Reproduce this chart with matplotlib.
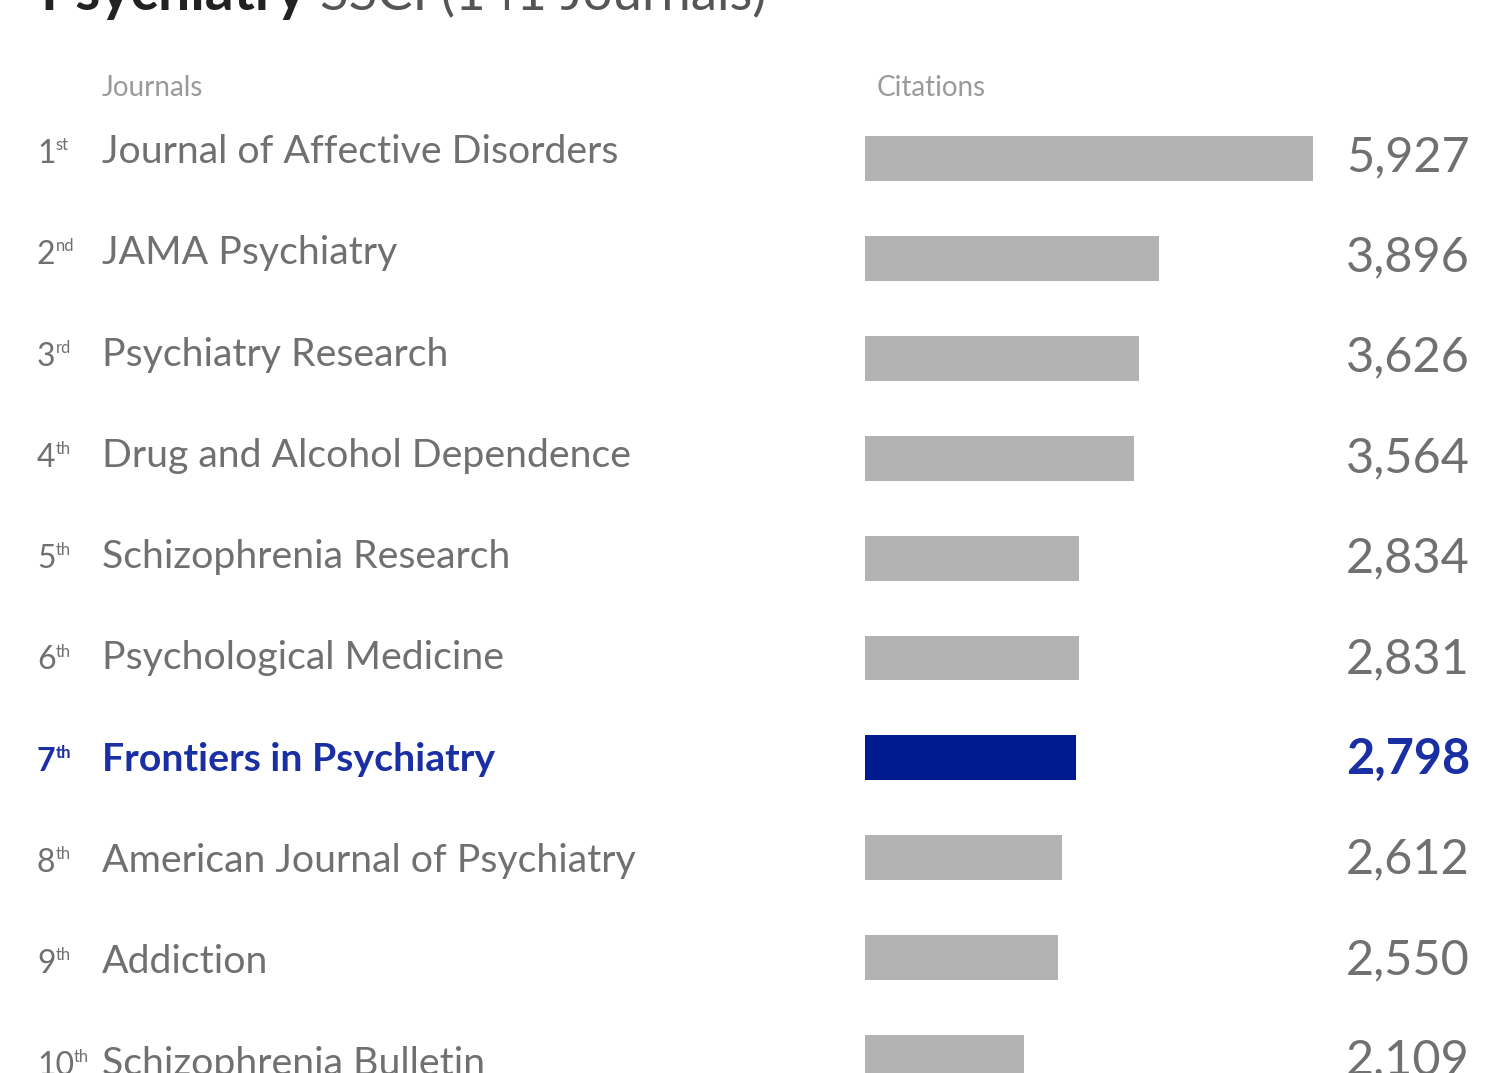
import matplotlib
matplotlib.use("Agg")
import matplotlib.pyplot as plt
import matplotlib.transforms as mtransforms

plt.rcParams['font.family'] = ['Lato', 'DejaVu Sans']

# data
ranks = ["1", "2", "3", "4", "5", "6", "7", "8", "9", "10"]
suffixes = ["st", "nd", "rd", "th", "th", "th", "th", "th", "th", "th"]
journals = ["Journal of Affective Disorders", "JAMA Psychiatry", "Psychiatry Research",
            "Drug and Alcohol Dependence", "Schizophrenia Research", "Psychological Medicine",
            "Frontiers in Psychiatry", "American Journal of Psychiatry", "Addiction",
            "Schizophrenia Bulletin"]
citations = [5927, 3896, 3626, 3564, 2834, 2831, 2798, 2612, 2550, 2109]
highlight = "Frontiers in Psychiatry"

W, H = 1512, 1073
fig = plt.figure(figsize=(W / 100, H / 100), dpi=100)

# bar axes: 865px -> 1313px for 0 -> max citations
x0, x1 = 865, 1313
row0, step = 158.5, 99.9
ax = fig.add_axes([x0 / W, 0, (x1 - x0) / W, 1])
ax.set_xlim(0, max(citations))
ax.set_ylim((H - row0) / step, -row0 / step)
ax.axis('off')

gray_bar = '#b3b3b3'
blue_bar = '#001a8f'
gray_txt = '#707070'
blue_txt = '#1a2fa3'

colors = [blue_bar if j == highlight else gray_bar for j in journals]
ax.barh(range(len(journals)), citations, height=0.45, color=colors)

# x in pixels, y in data rows
px = mtransforms.blended_transform_factory(
    mtransforms.IdentityTransform(), ax.transData)

def row_y(i, centre, spacing):
    # text rows drift slightly relative to the bars in the source image
    return (centre + spacing * i - row0) / step

renderer = fig.canvas.get_renderer()
for i, (r, s, j, c) in enumerate(zip(ranks, suffixes, journals, citations)):
    hl = j == highlight
    col = blue_txt if hl else gray_txt
    wt = 'bold' if hl else 'normal'
    yn = row_y(i, 152, 101.3)
    t = ax.text(37, yn + 0.02, r, transform=px, fontsize=23, color=col, weight=wt,
                va='center', ha='left', clip_on=False)
    bb = t.get_window_extent(renderer)
    ax.text(bb.x1, yn - 0.07, s, transform=px, fontsize=12, color=col, weight=wt,
            va='center', ha='left', clip_on=False)
    ax.text(102, yn, j, transform=px, fontsize=28.3, color=col, weight=wt,
            va='center', ha='left', clip_on=False)
    ax.text(1470, row_y(i, 157, 100.4), f"{c:,}", transform=px, fontsize=35, color=col,
            weight=wt, va='center', ha='right', clip_on=False)

# headers
fig.text(102 / W, 1 - 88 / H, "Journals", fontsize=20, color='#9a9a9a', va='center', ha='left')
fig.text(877 / W, 1 - 88 / H, "Citations", fontsize=20, color='#9a9a9a', va='center', ha='left')

# title (cut off at the top)
tt = fig.text(40 / W, 1 - 10 / H, "Psychiatry", fontsize=41, weight='bold', color='#222222',
              va='baseline', ha='left')
bb = tt.get_window_extent(renderer)
fig.text((bb.x1 + 14) / W, 1 - 10 / H, "SSCI (141 Journals)", fontsize=38, weight='normal',
         color='#555555', va='baseline', ha='left')

fig.savefig('out.png', dpi=100)
